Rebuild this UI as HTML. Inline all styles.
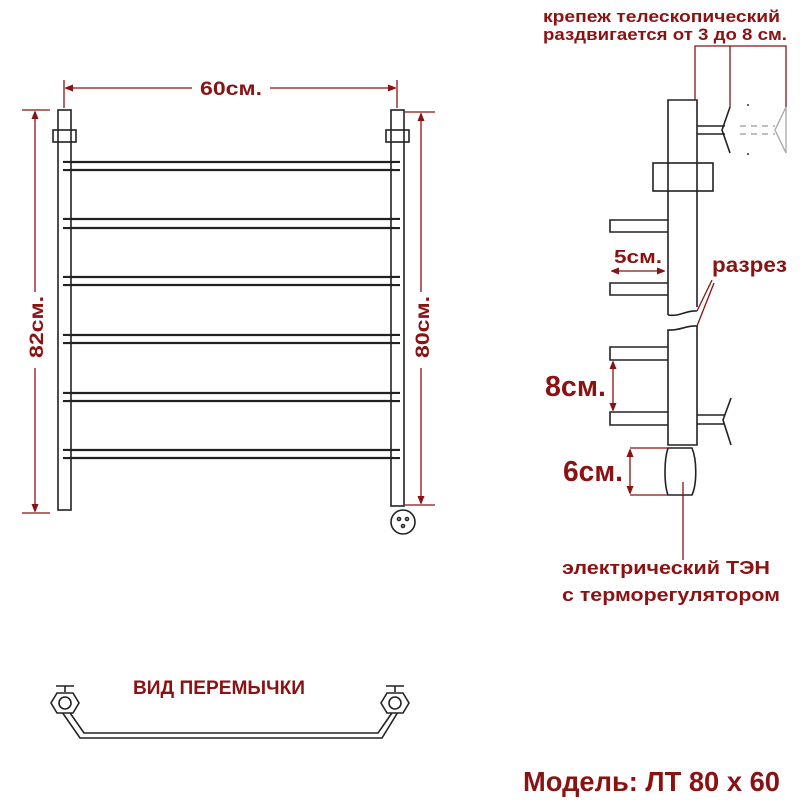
<!DOCTYPE html>
<html><head><meta charset="utf-8"><style>
body{margin:0;background:#fff}
svg{display:block}
text{font-family:"Liberation Sans","DejaVu Sans",sans-serif;font-weight:bold;fill:#8b1212}
</style></head><body>
<svg width="800" height="800" viewBox="0 0 800 800" xmlns="http://www.w3.org/2000/svg">
<defs><marker id="a" viewBox="0 0 10 10" refX="9" refY="5" markerWidth="6" markerHeight="6" orient="auto-start-reverse"><path d="M0,1 L10,5 L0,9Z" fill="#8b1212" stroke="#8b1212" stroke-width="1"/></marker></defs>
<g fill="none" stroke="#222" stroke-width="1.6">
<rect x="58" y="110" width="13" height="400" fill="#fff"/>
<rect x="391" y="110" width="13" height="396" fill="#fff"/>
<rect x="53" y="130" width="23" height="12"/>
<rect x="386" y="130" width="23" height="12"/>
<g stroke-width="2.2">
<path d="M63 162H400M63 170H400M63 219H400M63 228H400M63 277H400M63 285H400M63 335H400M63 343H400M63 393H400M63 401H400M63 450H400M63 458H400"/>
</g>
<g fill="#fff" stroke="none">
<rect x="60" y="163" width="9" height="6"/><rect x="393" y="163" width="9" height="6"/>
<rect x="60" y="220" width="9" height="7"/><rect x="393" y="220" width="9" height="7"/>
<rect x="60" y="278" width="9" height="6"/><rect x="393" y="278" width="9" height="6"/>
<rect x="60" y="336" width="9" height="6"/><rect x="393" y="336" width="9" height="6"/>
<rect x="60" y="394" width="9" height="6"/><rect x="393" y="394" width="9" height="6"/>
<rect x="60" y="451" width="9" height="6"/><rect x="393" y="451" width="9" height="6"/>
</g>
<circle cx="403" cy="522" r="12"/>
<circle cx="399" cy="519" r="1.5"/><circle cx="407" cy="519" r="1.5"/><circle cx="403" cy="526" r="1.5"/>
</g>
<g stroke="#8b1212" stroke-width="1.3" fill="none">
<path d="M64 80V108M397 80V108"/>
<path d="M66 88H192M270 88H395" marker-start="url(#a)" marker-end="url(#a)"/>
<path d="M22 110H50M22 513H50M405 112H435M405 505H435"/>
<path d="M35 112V292M35 368V511" marker-start="url(#a)" marker-end="url(#a)"/>
<path d="M421 114V292M421 368V503" marker-start="url(#a)" marker-end="url(#a)"/>
</g>
<text x="200" y="95" font-size="19" textLength="62" lengthAdjust="spacingAndGlyphs">60см.</text>
<text transform="translate(43,358) rotate(-90)" font-size="19" textLength="62" lengthAdjust="spacingAndGlyphs">82см.</text>
<text transform="translate(429,358) rotate(-90)" font-size="19" textLength="62" lengthAdjust="spacingAndGlyphs">80см.</text>
<g fill="none" stroke="#222" stroke-width="1.6">
<path d="M668 315V100H697V307"/>
<path d="M668 315C680 317 686 310 697 311"/>
<path d="M668 445V330C680 331 686 325 697 326V445Z"/>
<rect x="653" y="163" width="60" height="28"/>
<path d="M668 220H610V232H668M668 283H610V295H668M668 347H610V360H668M668 412H610V425H668"/>
<path d="M697 126H725M697 134H725M697 415H725M697 424H725"/>
<path d="M730 107L722 130L730 153M731 398L723 420L731 445"/>
<path d="M668 448C664 460 664 484 668 495H692C697 484 697 460 692 448Z"/>
</g>
<g fill="none" stroke="#aaa" stroke-width="1.4">
<path d="M740 126H775M740 134H775" stroke-dasharray="6 5"/>
<path d="M786 107V153L775 130Z"/>
</g>
<circle cx="748" cy="105" r="1" fill="#333"/><circle cx="748" cy="154" r="1" fill="#333"/>
<g stroke="#8b1212" stroke-width="1.3" fill="none">
<path d="M695 100V46H786V107M730 46V107"/>
<path d="M612 271H664" marker-start="url(#a)" marker-end="url(#a)"/>
<path d="M613 362V410" marker-start="url(#a)" marker-end="url(#a)"/>
<path d="M630 450V493" marker-start="url(#a)" marker-end="url(#a)"/>
<path d="M630 448H668M630 495H668M683 482V560"/>
<path d="M697 311L712 280M697 326L714 283"/>
</g>
<text x="543" y="22" font-size="17" textLength="237" lengthAdjust="spacingAndGlyphs">крепеж телескопический</text>
<text x="543" y="40" font-size="17" textLength="244" lengthAdjust="spacingAndGlyphs">раздвигается от 3 до 8 см.</text>
<text x="614" y="263" font-size="18" textLength="48" lengthAdjust="spacingAndGlyphs">5см.</text>
<text x="712" y="272" font-size="21" textLength="75" lengthAdjust="spacingAndGlyphs">разрез</text>
<text x="545" y="396" font-size="29" textLength="61" lengthAdjust="spacingAndGlyphs">8см.</text>
<text x="563" y="481" font-size="29" textLength="60" lengthAdjust="spacingAndGlyphs">6см.</text>
<text x="562" y="574" font-size="18" textLength="208" lengthAdjust="spacingAndGlyphs">электрический  ТЭН</text>
<text x="562" y="601" font-size="18" textLength="218" lengthAdjust="spacingAndGlyphs">с терморегулятором</text>
<text x="133" y="694" font-size="19" textLength="172" lengthAdjust="spacingAndGlyphs">ВИД ПЕРЕМЫЧКИ</text>
<text x="523" y="791" font-size="28" textLength="257" lengthAdjust="spacingAndGlyphs">Модель: ЛТ 80 х 60</text>
<g fill="none" stroke="#222" stroke-width="1.6">
<path d="M68 710L84 733H378L394 710M62 712L80 738H382L398 712"/>
<path d="M56 686H74M65 686V692M386 686H404M395 686V692"/>
<polygon points="57,693 73,693 79,703 73,713 57,713 51,703" fill="#fff"/>
<polygon points="387,693 403,693 409,703 403,713 387,713 381,703" fill="#fff"/>
<circle cx="65" cy="703" r="6"/><circle cx="395" cy="703" r="6"/>
</g>
</svg>
</body></html>
